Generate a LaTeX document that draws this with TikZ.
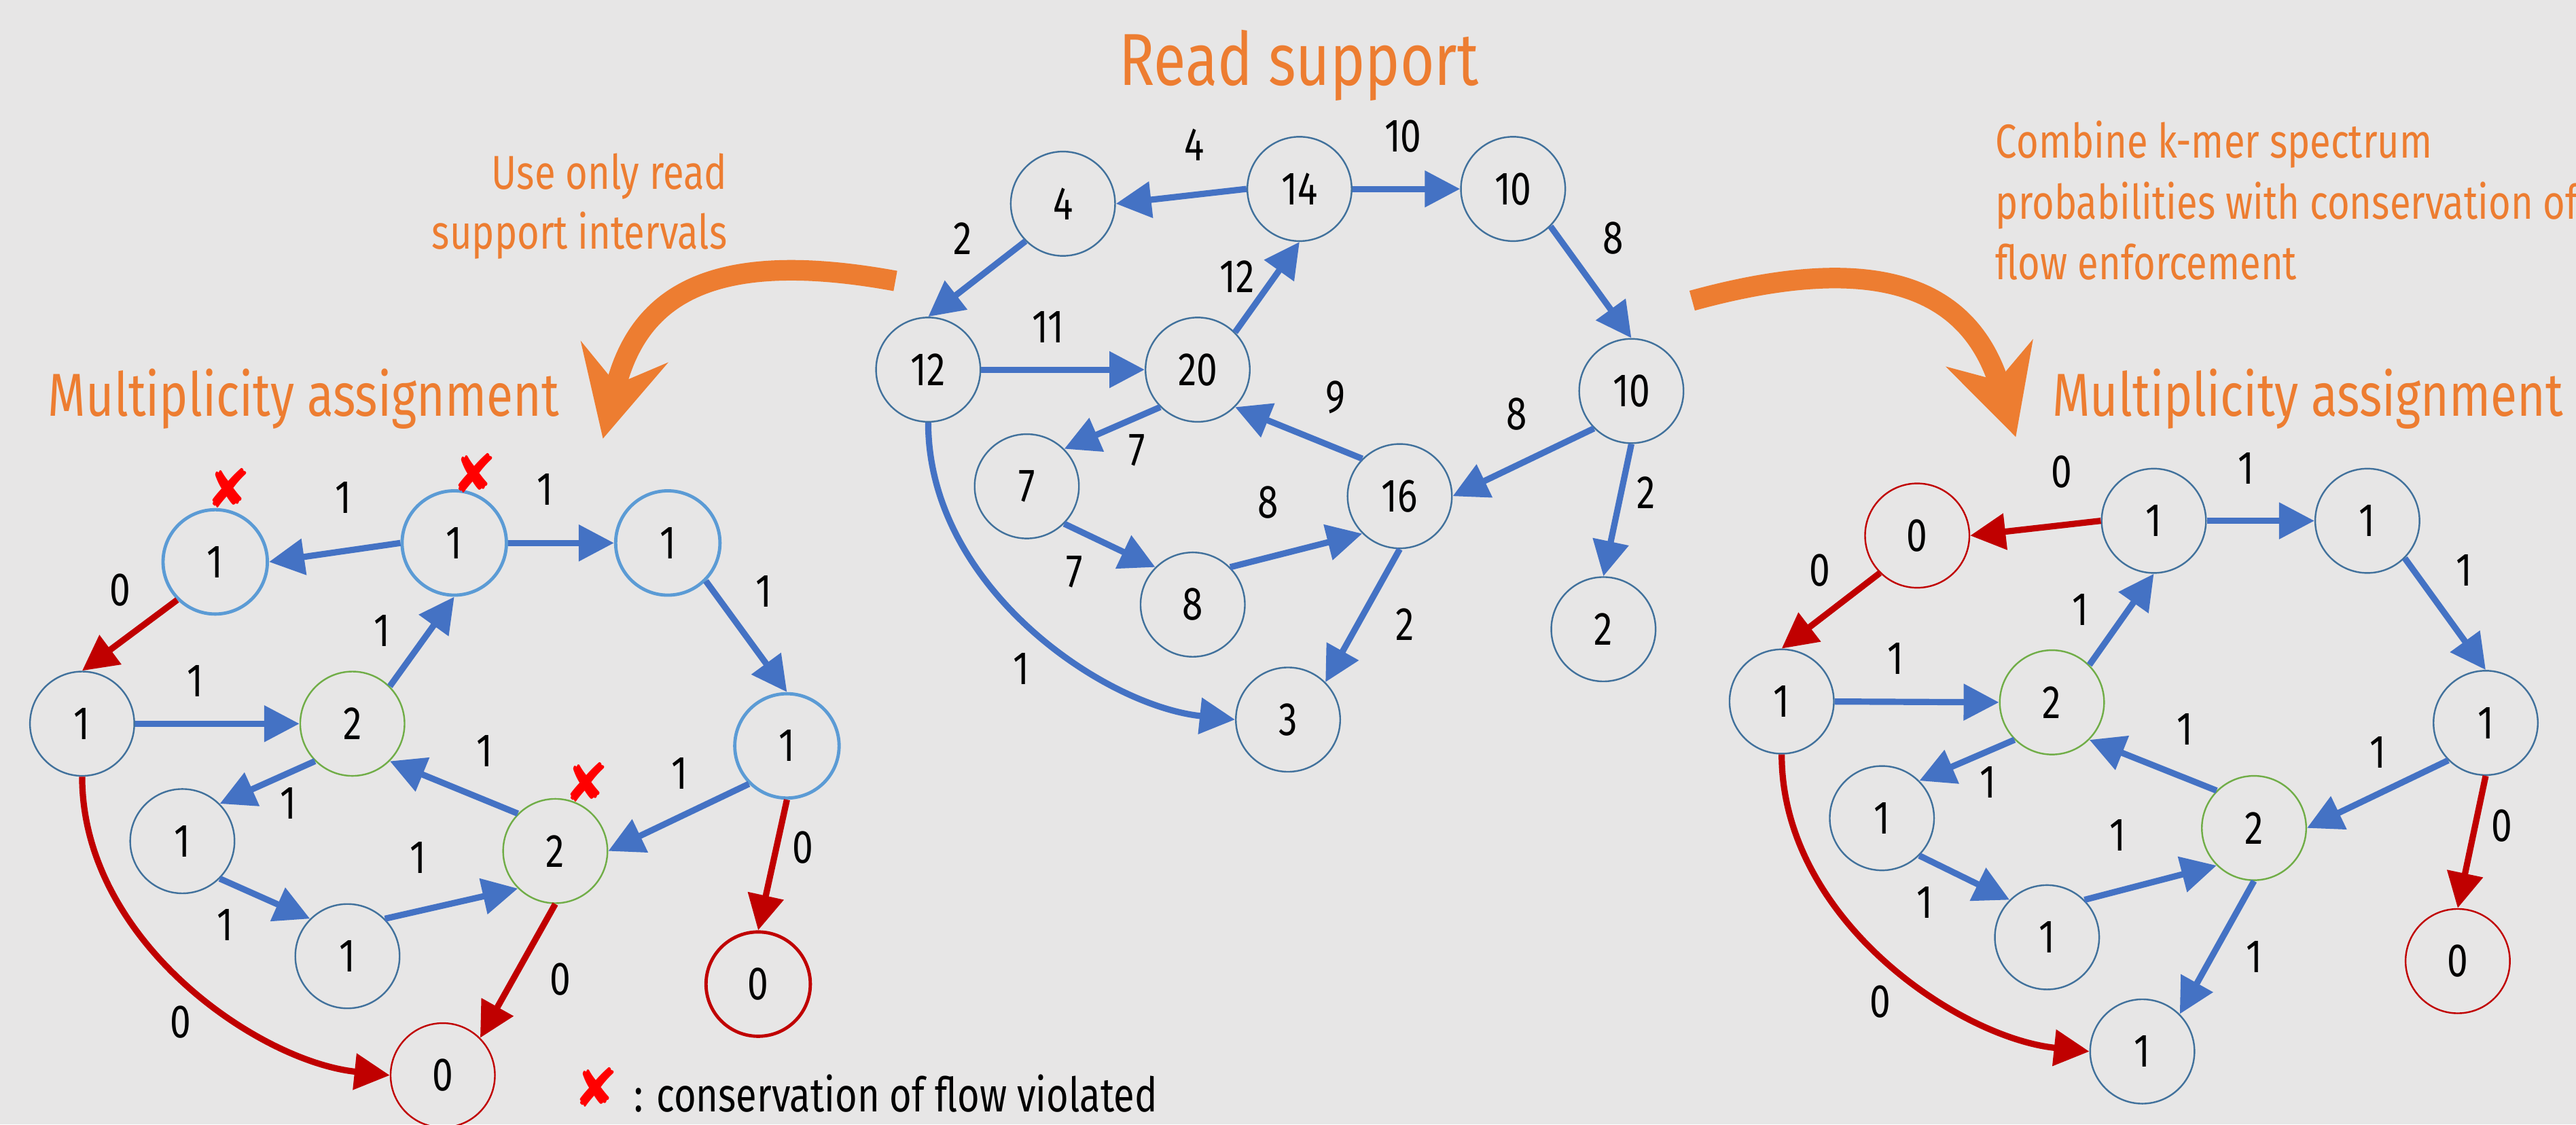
\documentclass[tikz,border=0pt]{standalone}
\usepackage{fontspec}
\setmainfont[FakeStretch=0.8]{Fira Sans}
\newfontfamily\symfont{DejaVu Sans}
\usetikzlibrary{arrows.meta}
\definecolor{bgc}{HTML}{E7E6E6}
\definecolor{eblue}{HTML}{4472C4}
\definecolor{ered}{HTML}{C00000}
\definecolor{ndblue}{HTML}{41719C}
\definecolor{ltblue}{HTML}{5B9BD5}
\definecolor{ndgreen}{HTML}{70AD47}
\definecolor{orng}{HTML}{ED7D31}
\definecolor{xred}{HTML}{FF0000}
\newcommand\fsdig{\fontsize{16.2}{19}\selectfont}
\newcommand\fssmall{\fontsize{16.5}{20}\selectfont}
\newcommand\fsmult{\fontsize{21}{25}\selectfont}
\newcommand\fstitle{\fontsize{25.5}{30}\selectfont}
\tikzset{
  nd/.style={circle, minimum size=12.7mm, inner sep=0pt, draw=ndblue, line width=0.2mm, font=\fsdig},
  ndlb/.style={nd, draw=ltblue, line width=0.4mm},
  ndg/.style={nd, draw=ndgreen},
  ndr/.style={nd, draw=ered},
  ndrt/.style={nd, draw=ered, line width=0.4mm},
  eb/.style={draw=eblue, line width=0.76mm, -{Triangle[length=4.3mm,width=4.3mm]}},
  er/.style={eb, draw=ered},
  lbl/.style={font=\fsdig, inner sep=0pt},
  xmark/.style={text=xred, font=\symfont\fontsize{18.5}{18}\selectfont, inner sep=0pt},
  otxt/.style={text=orng, inner sep=0pt},
  oarrow/.style={draw=orng, line width=2.5mm}
}
\begin{document}
\begin{tikzpicture}[x=0.2mm,y=-0.2mm]
\fill[bgc] (0,0) rectangle (1568,684.35);
\useasboundingbox (0,0) rectangle (1568,684.35);

% ---------- texts ----------
\node[otxt, anchor=base, font=\fstitle] (title) at (790.7,51.7) {Read support};
\node[otxt, anchor=base east, font=\fssmall] (ul1) at (443,115) {Use only read};
\node[otxt, anchor=base east, font=\fssmall] (ul2) at (443,151.6) {support intervals};
\node[otxt, anchor=base west, font=\fssmall] (cr1) at (1214.5,96) {Combine k-mer spectrum};
\node[otxt, anchor=base west, font=\fssmall] (cr2) at (1214.5,133.3) {probabilities with conservation of};
\node[otxt, anchor=base west, font=\fssmall] (cr3) at (1214.5,170.2) {flow enforcement};
\node[otxt, anchor=base west, font=\fsmult] (mtl) at (29,253.2) {Multiplicity assignment};
\node[otxt, anchor=base west, font=\fsmult] (mtr) at (1249,253.3) {Multiplicity assignment};
\node[xmark] (xleg) at (362.8,661.6) {✘};
\node[anchor=base west, inner sep=0pt, font=\fssmall] (leg) at (385.5,676.8) {: conservation of flow violated};

% ---------- orange arrows ----------
\coordinate (o1s) at (545,171);
\coordinate (o1e) at (367,267);
\draw[oarrow, -{Stealth[length=10.8mm,width=10.8mm,inset=4mm]}] (o1s) .. controls (430,150) and (388,182) .. (o1e);
\coordinate (o2s) at (1030,183);
\coordinate (o2e) at (1227,266);
\draw[oarrow, -{Stealth[length=10.6mm,width=10.9mm,inset=3.4mm]}] (o2s) .. controls (1150,150) and (1200,180) .. (o2e);

% ---------- middle graph ----------
\node[nd] (m4) at (647,124) {4};
\node[nd] (m14) at (791,115) {14};
\node[nd] (m10a) at (921,115) {10};
\node[nd] (m12) at (565,225) {12};
\node[nd] (m20) at (729,225) {20};
\node[nd] (m10b) at (993,238) {10};
\node[nd] (m7) at (625,296) {7};
\node[nd] (m16) at (852,302) {16};
\node[nd] (m8) at (726,368) {8};
\node[nd] (m2) at (976,383) {2};
\node[nd] (m3) at (784,438) {3};

\draw[eb] (m14.west) -- (m4.east);
\draw[eb] (m14.east) -- (m10a.west);
\draw[eb] (m4.south west) -- (m12.north);
\draw[eb] (m10a.south east) -- (m10b.north);
\draw[eb] (m12.east) -- (m20.west);
\draw[eb] (m20.north east) -- (m14.south);
\draw[eb] (m20.south west) -- (m7.north east);
\draw[eb] (m16.north west) -- (m20.south east);
\draw[eb] (m10b.south west) -- (m16.east);
\draw[eb] (m7.south east) -- (m8.north west);
\draw[eb] (m8.north east) -- (m16.south west);
\draw[eb] (m16.south) -- (m3.north east);
\draw[eb] (m10b.south) -- (m2.north);
\draw[eb] (m12.south) .. controls +(0,100) and +(-80,-8.4) .. (m3.west);

\node[lbl] (ml1) at (727,88) {4};
\node[lbl] (ml2) at (854,83) {10};
\node[lbl] (ml3) at (586,145) {2};
\node[lbl] (ml4) at (982,145) {8};
\node[lbl] (ml5) at (753,168.5) {12};
\node[lbl] (ml6) at (638,199) {11};
\node[lbl] (ml7) at (813,242) {9};
\node[lbl] (ml8) at (923,252) {8};
\node[lbl] (ml9) at (692,274) {7};
\node[lbl] (ml10) at (772,306) {8};
\node[lbl] (ml11) at (1002,300) {2};
\node[lbl] (ml12) at (654,348) {7};
\node[lbl] (ml13) at (855,380) {2};
\node[lbl] (ml14) at (621.5,407) {1};

% ---------- left graph ----------
\node[ndlb] (lA) at (131,342) {1};
\node[ndlb] (lB) at (276.5,330.5) {1};
\node[ndlb] (lC) at (406.5,330.5) {1};
\node[nd] (lD) at (50,440.5) {1};
\node[ndg] (lE) at (214.5,440.5) {2};
\node[ndlb] (lF) at (479,454) {1};
\node[nd] (lG) at (111,512) {1};
\node[ndg] (lH) at (338,518) {2};
\node[nd] (lI) at (211.5,582) {1};
\node[ndrt] (lJ) at (461.5,599) {0};
\node[ndr] (lK) at (269.5,654.5) {0};

\draw[eb] (lB.west) -- (lA.east);
\draw[eb] (lB.east) -- (lC.west);
\draw[er] (lA.south west) -- (lD.north);
\draw[eb] (lC.south east) -- (lF.north);
\draw[eb] (lE.north east) -- (lB.south);
\draw[eb] (lD.east) -- (lE.west);
\draw[eb] (lH.north west) -- (lE.south east);
\draw[eb] (lE.south west) -- (lG.north east);
\draw[eb] (lF.south west) -- (lH.east);
\draw[er] (lF.south) -- (lJ.north);
\draw[eb] (lG.south east) -- (lI.north west);
\draw[eb] (lI.north east) -- (lH.south west);
\draw[er] (lH.south) -- (lK.north east);
\draw[er] (lD.south) .. controls +(0,100) and +(-80,-8.4) .. (lK.west);

\node[lbl] (ll1) at (209,303) {1};
\node[lbl] (ll2) at (332,298) {1};
\node[lbl] (ll3) at (73,359) {0};
\node[lbl] (ll4) at (465,360) {1};
\node[lbl] (ll5) at (232.5,384) {1};
\node[lbl] (ll6) at (119,414.5) {1};
\node[lbl] (ll7) at (295,457) {1};
\node[lbl] (ll8) at (175.5,489) {1};
\node[lbl] (ll9) at (413.5,470.6) {1};
\node[lbl] (ll10) at (488.6,515.8) {0};
\node[lbl] (ll11) at (254.5,522) {1};
\node[lbl] (ll12) at (137,563) {1};
\node[lbl] (ll13) at (341,596) {0};
\node[lbl] (ll14) at (110,622) {0};

\node[xmark] (x1) at (139,297) {✘};
\node[xmark] (x2) at (289,288) {✘};
\node[xmark] (x3) at (357,476) {✘};

% ---------- right graph ----------
\node[ndr] (rA) at (1167,326) {0};
\node[nd] (rB) at (1311,317) {1};
\node[nd] (rC) at (1441,317) {1};
\node[nd] (rD) at (1084.5,427) {1};
\node[ndg] (rE) at (1249,427.5) {2};
\node[nd] (rF) at (1513,440) {1};
\node[nd] (rG) at (1145.5,498) {1};
\node[ndg] (rH) at (1372,504) {2};
\node[nd] (rI) at (1246,570.5) {1};
\node[ndr] (rJ) at (1496,585) {0};
\node[nd] (rK) at (1304,640) {1};

\draw[er] (rB.west) -- (rA.east);
\draw[eb] (rB.east) -- (rC.west);
\draw[er] (rA.south west) -- (rD.north);
\draw[eb] (rC.south east) -- (rF.north);
\draw[eb] (rE.north east) -- (rB.south);
\draw[eb] (rD.east) -- (rE.west);
\draw[eb] (rH.north west) -- (rE.south east);
\draw[eb] (rE.south west) -- (rG.north east);
\draw[eb] (rF.south west) -- (rH.east);
\draw[er] (rF.south) -- (rJ.north);
\draw[eb] (rG.south east) -- (rI.north west);
\draw[eb] (rI.north east) -- (rH.south west);
\draw[eb] (rH.south) -- (rK.north east);
\draw[er] (rD.south) .. controls +(0,100) and +(-80,-8.4) .. (rK.west);

\node[lbl] (rl1) at (1255,287.4) {0};
\node[lbl] (rl2) at (1367,285) {1};
\node[lbl] (rl3) at (1107.7,347) {0};
\node[lbl] (rl4) at (1500,347) {1};
\node[lbl] (rl5) at (1266.5,371) {1};
\node[lbl] (rl6) at (1154,401) {1};
\node[lbl] (rl7) at (1330,444) {1};
\node[lbl] (rl8) at (1210,476) {1};
\node[lbl] (rl9) at (1447.6,458) {1};
\node[lbl] (rl10) at (1522.7,502.6) {0};
\node[lbl] (rl11) at (1289,508.5) {1};
\node[lbl] (rl12) at (1171.7,549.4) {1};
\node[lbl] (rl13) at (1372,582.6) {1};
\node[lbl] (rl14) at (1144.5,609.7) {0};
\end{tikzpicture}
\end{document}
